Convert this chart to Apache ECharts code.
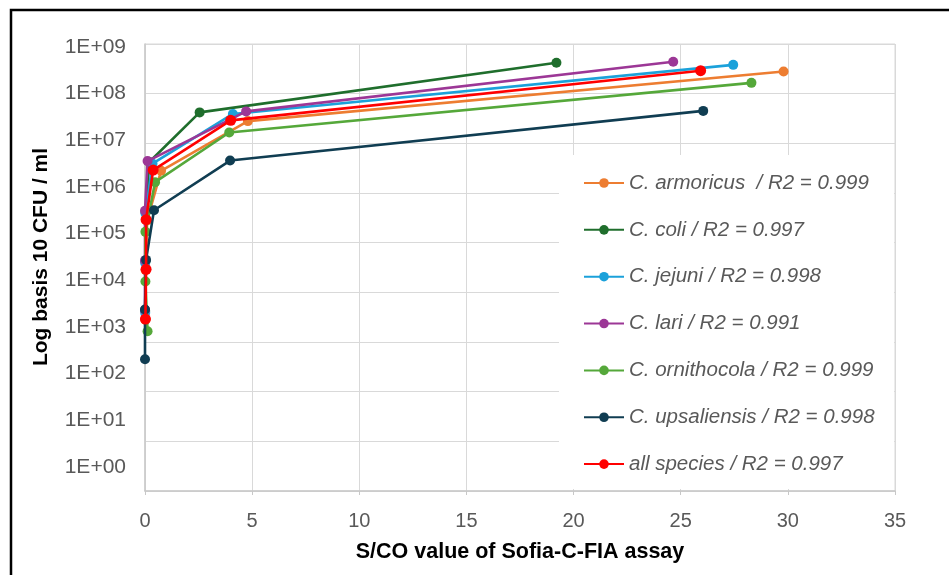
<!DOCTYPE html>
<html>
<head>
<meta charset="utf-8">
<script src="https://cdn.jsdelivr.net/npm/echarts@6/dist/echarts.min.js"></script>
<style>
html,body{margin:0;padding:0;background:#fff;}
#chart{width:949px;height:575px;}
</style>
</head>
<body>
<div id="chart"></div>
<script>
// Legend / series names
const seriesNames = [
  'C. armoricus  / R2 = 0.999',
  'C. coli / R2 = 0.997',
  'C. jejuni / R2 = 0.998',
  'C. lari / R2 = 0.991',
  'C. ornithocola / R2 = 0.999',
  'C. upsaliensis / R2 = 0.998',
  'all species / R2 = 0.997'
];
const seriesColors = ['#ED7D31', '#1F6E2C', '#1BA1DA', '#9C3796', '#55A83A', '#103D52', '#FF0000'];

// S/CO values (x) and CFU/ml (y)
const armoricusX = [29.8, 4.8, 0.75, 0.1, 0.03, 0.02];
const armoricusY = [2.8e8, 2.8e7, 2.8e6, 2.8e5, 2.8e4, 2.8e3];
const coliX = [19.2, 2.55, 0.2, 0.03, 0.02, 0.01];
const coliY = [4.2e8, 4.2e7, 4.2e6, 4.2e5, 4.2e4, 4.2e3];
const jejuniX = [27.45, 4.1, 0.35, 0.02, 0.01, 0.01];
const jejuniY = [3.8e8, 3.9e7, 3.9e6, 3.9e5, 3.9e4, 3.9e3];
const lariX = [24.65, 4.72, 0.12, 0.0, 0.0, 0.0];
const lariY = [4.4e8, 4.4e7, 4.4e6, 4.4e5, 4.4e4, 4.4e3];
const ornithocolaX = [28.3, 3.93, 0.47, 0.02, 0.02, 0.12];
const ornithocolaY = [1.65e8, 1.65e7, 1.65e6, 1.65e5, 1.65e4, 1.65e3];
const upsaliensisX = [26.05, 3.97, 0.42, 0.05, 0.0, 0.0];
const upsaliensisY = [4.5e7, 4.5e6, 4.5e5, 4.5e4, 4.5e3, 4.5e2];
const allX = [25.93, 4.0, 0.38, 0.05, 0.05, 0.02];
const allY = [2.9e8, 2.9e7, 2.9e6, 2.9e5, 2.9e4, 2.9e3];

const xTicks = [0, 5, 10, 15, 20, 25, 30, 35];
const yTickMin = 1, yTickMax = 1e9;

const xs = [armoricusX, coliX, jejuniX, lariX, ornithocolaX, upsaliensisX, allX];
const ys = [armoricusY, coliY, jejuniY, lariY, ornithocolaY, upsaliensisY, allY];

const series = seriesNames.map((name, i) => ({
  name: name,
  type: 'line',
  xAxisIndex: 0,
  yAxisIndex: 0,
  data: xs[i].map((x, j) => [x, ys[i][j]]),
  symbol: 'circle',
  symbolSize: i === 6 ? 11 : 10,
  clip: false,
  color: seriesColors[i],
  lineStyle: { width: 2.6, color: seriesColors[i] },
  itemStyle: { color: seriesColors[i] },
  z: 2 + i * 0.01
}));

const FONT = 'Liberation Sans, Arial, sans-serif';
const chart = echarts.init(document.getElementById('chart'), null, { renderer: 'canvas' });
chart.setOption({
  animation: false,
  backgroundColor: '#fff',
  textStyle: { fontFamily: FONT },
  grid: [
    { left: 145, right: 54, top: 44, bottom: 84, show: true, borderColor: '#D9D9D9', borderWidth: 1 },
    { left: 145, right: 54, top: 47, bottom: 108, show: false }
  ],
  xAxis: [
    {
      gridIndex: 0,
      type: 'value',
      min: xTicks[0], max: xTicks[xTicks.length - 1], interval: 5,
      name: 'S/CO value of Sofia-C-FIA assay',
      nameLocation: 'middle',
      nameGap: 50,
      nameTextStyle: { fontSize: 21.5, fontWeight: 'bold', color: '#000', fontFamily: FONT },
      axisLine: { show: true, lineStyle: { color: '#C8C8C8', width: 1.5 } },
      axisTick: { show: true, length: 4, lineStyle: { color: '#C8C8C8' } },
      axisLabel: { fontSize: 20, color: '#595959', margin: 20, fontFamily: 'Liberation Sans Narrow, Arial Narrow, ' + FONT },
      splitLine: { show: true, lineStyle: { color: '#D9D9D9', width: 1 } }
    },
    {
      gridIndex: 1,
      type: 'value', min: 0, max: 35, show: false
    }
  ],
  yAxis: [
    {
      gridIndex: 0,
      type: 'log',
      logBase: 10,
      min: yTickMin, max: yTickMax,
      splitNumber: 9,
      axisLine: { show: true, lineStyle: { color: '#C8C8C8', width: 1.5 } },
      axisTick: { show: false },
      axisLabel: { show: false },
      splitLine: { show: true, lineStyle: { color: '#D9D9D9', width: 1 } }
    },
    {
      gridIndex: 1,
      type: 'log',
      logBase: 10,
      min: yTickMin, max: yTickMax,
      splitNumber: 9,
      name: 'Log basis 10 CFU / ml',
      nameLocation: 'middle',
      nameGap: 93,
      nameRotate: 90,
      nameTextStyle: { fontSize: 21, fontWeight: 'bold', color: '#000', fontFamily: FONT },
      axisLine: { show: false },
      axisTick: { show: false },
      splitLine: { show: false },
      axisLabel: {
        fontSize: 21, color: '#595959', margin: 19,
        formatter: v => '1E+' + String(Math.round(Math.log10(v))).padStart(2, '0')
      }
    }
  ],
  legend: {
    orient: 'vertical',
    left: 578,
    top: 167,
    itemWidth: 40,
    itemHeight: 12,
    itemGap: 24.85,
    data: seriesNames,
    textStyle: { fontSize: 20.5, fontStyle: 'italic', color: '#595959', lineHeight: 22, fontFamily: FONT },
    z: 5
  },
  graphic: [
    {
      type: 'rect', z: 1, silent: true,
      shape: { x: 559, y: 155, width: 335, height: 334 },
      style: { fill: '#fff' }
    },
    {
      type: 'rect', z: 10, silent: true,
      shape: { x: 11, y: 10, width: 960, height: 600 },
      style: { fill: 'none', stroke: '#000', lineWidth: 2.5 }
    }
  ],
  series: series
});
</script>
</body>
</html>
